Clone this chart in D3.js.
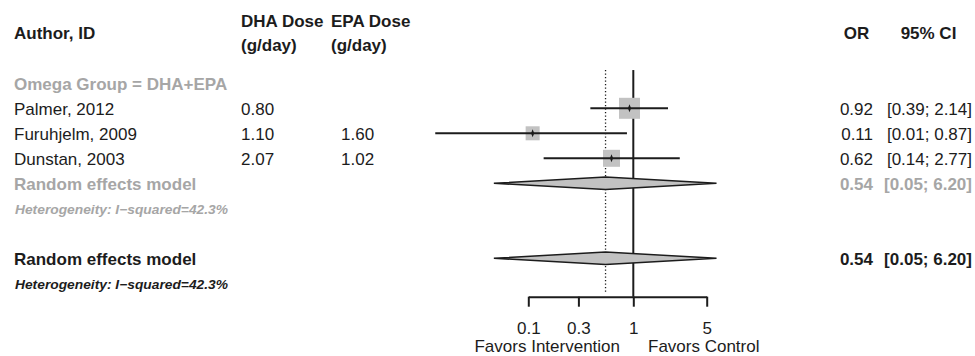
<!DOCTYPE html>
<html>
<head>
<meta charset="utf-8">
<script src="https://cdn.jsdelivr.net/npm/d3@7"></script>
<style>
  html, body { margin: 0; padding: 0; background: #fff; }
  svg { display: block; font-family: "Liberation Sans", Arial, Helvetica, sans-serif; }
</style>
</head>
<body>
<svg id="chart" width="975" height="356"></svg>
<script>
// Study-level data (odds ratios with 95% confidence intervals)
const studies = ["Palmer, 2012", "Furuhjelm, 2009", "Dunstan, 2003"];
const dhaDose = [0.80, 1.10, 2.07];
const epaDose = [null, 1.60, 1.02];
const oddsRatio = [0.92, 0.11, 0.62];
const ciLower = [0.39, 0.013, 0.14];
const ciUpper = [2.14, 0.87, 2.77];
const weights = [47.6, 21.2, 31.2];

// Pooled random effects estimate (same within the subgroup and overall)
const pooled = [0.544, 0.047, 6.20];
const heterogeneity = "Heterogeneity: I\u2212squared=42.3%";

const groupLabel = "Omega Group = DHA+EPA";
const axisTicks = [0.1, 0.3, 1, 5];

const dark = "#1c1c1c";
const grey = "#a6a6a6";
const boxFill = "#c2c2c2";

const svg = d3.select("#chart");
const f2 = d3.format(".2f");
const ciText = (lo, hi) => `[${f2(lo)}; ${f2(hi)}]`;

// Scales
const x = d3.scaleLog().domain([0.1, 5]).range([528.3, 706.7]);
const rowY = d3.scaleLinear().domain([0, 1]).range([83.3, 108.3]);
const boxSize = d3.scaleSqrt().domain([0, d3.max(weights)]).range([0, 21]);

const colAuthor = 14, colDHA = 241, colEPA = 341, colOR = 873, colCI = 972;

// Header
const hdr = svg.append("g").attr("font-weight", "bold").attr("font-size", 17).attr("fill", dark);
hdr.append("text").attr("x", colAuthor).attr("y", 33).attr("dy", "0.35em").text("Author, ID");
hdr.append("text").attr("x", colDHA).attr("y", 21).attr("dy", "0.35em").text("DHA Dose");
hdr.append("text").attr("x", colDHA).attr("y", 45).attr("dy", "0.35em").text("(g/day)");
hdr.append("text").attr("x", colEPA - 10).attr("y", 21).attr("dy", "0.35em").text("EPA Dose");
hdr.append("text").attr("x", colEPA - 10).attr("y", 45).attr("dy", "0.35em").text("(g/day)");
hdr.append("text").attr("x", 856.5).attr("y", 33).attr("dy", "0.35em").attr("text-anchor", "middle").text("OR");
hdr.append("text").attr("x", 928.5).attr("y", 33).attr("dy", "0.35em").attr("text-anchor", "middle").text("95% CI");

// Reference lines: null effect (solid) and pooled estimate (dotted)
svg.append("line")
  .attr("x1", x(1)).attr("x2", x(1))
  .attr("y1", rowY(-0.53)).attr("y2", 296.7)
  .attr("stroke", dark).attr("stroke-width", 2);
svg.append("line")
  .attr("x1", x(pooled[0])).attr("x2", x(pooled[0]))
  .attr("y1", rowY(-0.53)).attr("y2", 292)
  .attr("stroke", dark).attr("stroke-width", 1.3)
  .attr("stroke-dasharray", "1.3,2.2");

// Row labels
const txt = svg.append("g").attr("font-size", 17);
txt.append("text").attr("x", colAuthor).attr("y", rowY(0) + 1).attr("dy", "0.35em")
  .attr("fill", grey).attr("font-weight", "bold").text(groupLabel);

studies.forEach((s, i) => {
  const y = rowY(i + 1) + 1;
  txt.append("text").attr("x", colAuthor).attr("y", y).attr("dy", "0.35em").attr("fill", dark).text(s);
  txt.append("text").attr("x", colDHA).attr("y", y).attr("dy", "0.35em").attr("fill", dark).text(f2(dhaDose[i]));
  if (epaDose[i] != null)
    txt.append("text").attr("x", colEPA).attr("y", y).attr("dy", "0.35em").attr("fill", dark).text(f2(epaDose[i]));
  txt.append("text").attr("x", colOR).attr("y", y).attr("dy", "0.35em").attr("text-anchor", "end").attr("fill", dark).text(f2(oddsRatio[i]));
  txt.append("text").attr("x", colCI).attr("y", y).attr("dy", "0.35em").attr("text-anchor", "end").attr("fill", dark).text(ciText(ciLower[i], ciUpper[i]));
});

// Summary rows: subgroup (grey) and overall (black)
const summaries = [
  { row: 4, color: grey },
  { row: 7, color: dark }
];
summaries.forEach(sm => {
  const y = rowY(sm.row) + 1;
  txt.append("text").attr("x", colAuthor).attr("y", y).attr("dy", "0.35em")
    .attr("fill", sm.color).attr("font-weight", "bold").text("Random effects model");
  txt.append("text").attr("x", colOR).attr("y", y).attr("dy", "0.35em").attr("text-anchor", "end")
    .attr("fill", sm.color).attr("font-weight", "bold").text(f2(pooled[0]));
  txt.append("text").attr("x", colCI).attr("y", y).attr("dy", "0.35em").attr("text-anchor", "end")
    .attr("fill", sm.color).attr("font-weight", "bold").text(ciText(pooled[1], pooled[2]));
  txt.append("text").attr("x", colAuthor + 1).attr("y", rowY(sm.row + 1) + 1.5).attr("dy", "0.35em")
    .attr("fill", sm.color).attr("font-weight", "bold").attr("font-style", "italic")
    .attr("font-size", 12.5).attr("textLength", 213).attr("lengthAdjust", "spacingAndGlyphs")
    .text(heterogeneity);
});

// Study confidence intervals, weighted boxes and point markers
const marks = svg.append("g");
studies.forEach((s, i) => {
  const y = rowY(i + 1);
  const cx = x(oddsRatio[i]);
  const side = boxSize(weights[i]);
  marks.append("rect")
    .attr("x", cx - side / 2).attr("y", y - side / 2)
    .attr("width", side).attr("height", side)
    .attr("fill", boxFill);
  marks.append("line")
    .attr("x1", x(ciLower[i])).attr("x2", x(ciUpper[i]))
    .attr("y1", y).attr("y2", y)
    .attr("stroke", dark).attr("stroke-width", 2);
  marks.append("path")
    .attr("d", `M${cx},${y - 4}L${cx + 1.6},${y}L${cx},${y + 4}L${cx - 1.6},${y}Z`)
    .attr("fill", dark);
});

// Pooled estimate diamonds
summaries.forEach(sm => {
  const y = rowY(sm.row);
  const h = 6.3;
  marks.append("path")
    .attr("d", `M${x(pooled[1])},${y}L${x(pooled[0])},${y - h}L${x(pooled[2])},${y}L${x(pooled[0])},${y + h}Z`)
    .attr("fill", boxFill).attr("stroke", dark).attr("stroke-width", 1.5)
    .attr("stroke-linejoin", "miter");
});

// Bottom axis (log scale)
const axis = svg.append("g")
  .attr("transform", "translate(0,296.7)")
  .call(d3.axisBottom(x).tickValues(axisTicks).tickFormat(d3.format("")).tickSize(10).tickSizeOuter(0).tickPadding(15));
axis.select(".domain").attr("stroke", dark).attr("stroke-width", 2);
axis.selectAll(".tick line").attr("stroke", dark).attr("stroke-width", 2);
axis.selectAll(".tick text").attr("fill", dark).attr("font-size", 17).attr("font-family", null);

svg.append("text").attr("x", 620).attr("y", 352).attr("text-anchor", "end")
  .attr("font-size", 17).attr("fill", dark).text("Favors Intervention");
svg.append("text").attr("x", 648).attr("y", 352)
  .attr("font-size", 17).attr("fill", dark).text("Favors Control");
</script>
</body>
</html>
